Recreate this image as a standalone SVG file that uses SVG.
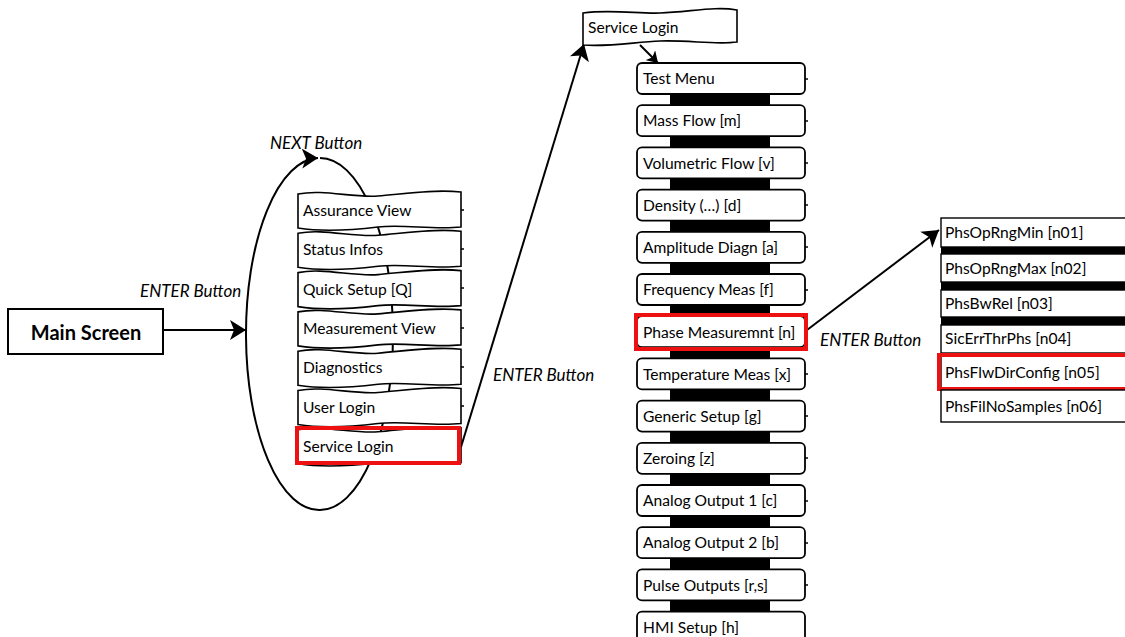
<svg xmlns="http://www.w3.org/2000/svg" width="1125" height="637" viewBox="0 0 1125 637">
<style>
text{font-family:Lato,"Open Sans","Liberation Sans",sans-serif;fill:#000}
.t{font-size:15.6px}
.lbl{font-size:17px;font-style:italic}
.wave{fill:#fff;stroke:#000;stroke-width:1.6}
.rb{fill:#fff;stroke:#000;stroke-width:1.8}
.sb{fill:#fff;stroke:#000;stroke-width:1.4}
.bar{fill:#000}
.hl{fill:none;stroke:#ee1111;stroke-width:4}
.con{fill:none;stroke:#000;stroke-width:2}
.tick{stroke:#000;stroke-width:1.5}
</style>
<defs>
<marker id="ah" markerUnits="userSpaceOnUse" markerWidth="18" markerHeight="22" refX="16" refY="10" orient="auto">
<path d="M0,0 L16,10 L0,20 L4,10 Z" fill="#000"/>
</marker>
<marker id="ahs" markerUnits="userSpaceOnUse" markerWidth="12" markerHeight="14" refX="11" refY="7" orient="auto">
<path d="M0,0 L11,7 L0,14 L3,7 Z" fill="#000"/>
</marker>
<path id="wv" d="M0,2 C25,-3 55,6 80,4 C105,2 135,-3 163,0 L163,35 C135,38 105,32 80,35 C55,38 25,40 0,36 Z"/>
</defs>

<g id="connectors">
<path class="con" d="M320,158 A73,176 0 0,1 320,510 A73,176 0 0,1 318,158" stroke-width="1.8" marker-end="url(#ah)"/>
<line class="con" x1="163" y1="330" x2="246" y2="330" marker-end="url(#ah)"/>
<line class="con" x1="461" y1="447" x2="584" y2="44" marker-end="url(#ah)"/>
<line class="con" x1="640" y1="45" x2="658" y2="63" stroke-width="1.6" marker-end="url(#ahs)"/>
<line class="con" x1="807" y1="330" x2="939" y2="230" marker-end="url(#ah)"/>
</g>

<g id="labels">
<text class="lbl" x="270" y="149" font-size="16.4">NEXT Button</text>
<text class="lbl" x="140" y="297">ENTER Button</text>
<text class="lbl" x="493" y="381">ENTER Button</text>
<text class="lbl" x="820" y="346">ENTER Button</text>
</g>

<g id="main-screen">
<rect x="8" y="309" width="155" height="45" fill="#fff" stroke="#000" stroke-width="2"/>
<text x="86" y="340" font-size="20" font-weight="bold" text-anchor="middle">Main Screen</text>
</g>

<g id="menu-assurance-view"><use href="#wv" class="wave" x="298" y="192"/><line class="tick" x1="461" y1="210" x2="464" y2="210"/><text class="t" x="303" y="216">Assurance View</text></g>
<g id="menu-status-infos"><use href="#wv" class="wave" x="298" y="231.3"/><line class="tick" x1="461" y1="249" x2="464" y2="249"/><text class="t" x="303" y="255">Status Infos</text></g>
<g id="menu-quick-setup"><use href="#wv" class="wave" x="298" y="270.6"/><line class="tick" x1="461" y1="288" x2="464" y2="288"/><text class="t" x="303" y="294.5">Quick Setup [Q]</text></g>
<g id="menu-measurement-view"><use href="#wv" class="wave" x="298" y="309.9"/><line class="tick" x1="461" y1="328" x2="464" y2="328"/><text class="t" x="303" y="334">Measurement View</text></g>
<g id="menu-diagnostics"><use href="#wv" class="wave" x="298" y="349.2"/><line class="tick" x1="461" y1="367" x2="464" y2="367"/><text class="t" x="303" y="373">Diagnostics</text></g>
<g id="menu-user-login"><use href="#wv" class="wave" x="298" y="388.5"/><line class="tick" x1="461" y1="406" x2="464" y2="406"/><text class="t" x="303" y="412.5">User Login</text></g>
<g id="menu-service-login"><use href="#wv" class="wave" x="298" y="427.8"/><text class="t" x="303" y="451.5">Service Login</text><rect class="hl" x="297" y="428" width="162" height="35"/></g>

<g id="service-login-header">
<path class="wave" d="M583,13 C610,9 640,14 660,13 C690,12 715,6 737,10 L737,42 C715,45 690,40 660,41 C635,42 610,47 583,45 Z"/>
<text class="t" x="588" y="33">Service Login</text>
</g>

<g id="bars-service">
<rect class="bar" x="670" y="94" width="100" height="12"/>
<rect class="bar" x="670" y="136" width="100" height="12"/>
<rect class="bar" x="670" y="178" width="100" height="12"/>
<rect class="bar" x="670" y="220" width="100" height="12"/>
<rect class="bar" x="670" y="262" width="100" height="12"/>
<rect class="bar" x="670" y="305" width="100" height="12"/>
<rect class="bar" x="670" y="347" width="100" height="12"/>
<rect class="bar" x="670" y="389" width="100" height="12"/>
<rect class="bar" x="670" y="431" width="100" height="12"/>
<rect class="bar" x="670" y="473" width="100" height="12"/>
<rect class="bar" x="670" y="516" width="100" height="12"/>
<rect class="bar" x="670" y="558" width="100" height="12"/>
<rect class="bar" x="670" y="600" width="100" height="12"/>
</g>

<g id="svc-test-menu"><rect class="rb" x="637" y="63" width="168" height="31" rx="5"/><line class="tick" x1="805" y1="79" x2="808" y2="79"/><text class="t" x="643" y="84">Test Menu</text></g>
<g id="svc-mass-flow"><rect class="rb" x="637" y="105.2" width="168" height="31" rx="5"/><line class="tick" x1="805" y1="121" x2="808" y2="121"/><text class="t" x="643" y="126">Mass Flow [m]</text></g>
<g id="svc-volumetric-flow"><rect class="rb" x="637" y="147.4" width="168" height="31" rx="5"/><line class="tick" x1="805" y1="163" x2="808" y2="163"/><text class="t" x="643" y="168.5">Volumetric Flow [v]</text></g>
<g id="svc-density"><rect class="rb" x="637" y="189.6" width="168" height="31" rx="5"/><line class="tick" x1="805" y1="205" x2="808" y2="205"/><text class="t" x="643" y="210.5">Density (…) [d]</text></g>
<g id="svc-amplitude"><rect class="rb" x="637" y="231.8" width="168" height="31" rx="5"/><line class="tick" x1="805" y1="247" x2="808" y2="247"/><text class="t" x="643" y="253">Amplitude Diagn [a]</text></g>
<g id="svc-frequency"><rect class="rb" x="637" y="274" width="168" height="31" rx="5"/><line class="tick" x1="805" y1="290" x2="808" y2="290"/><text class="t" x="643" y="295">Frequency Meas [f]</text></g>
<g id="svc-phase"><rect class="rb" x="637" y="316.2" width="168" height="31" rx="5"/><text class="t" x="643" y="337.5">Phase Measuremnt [n]</text><rect class="hl" x="636" y="315" width="170" height="34"/></g>
<g id="svc-temperature"><rect class="rb" x="637" y="358.4" width="168" height="31" rx="5"/><line class="tick" x1="805" y1="374" x2="808" y2="374"/><text class="t" x="643" y="379.5">Temperature Meas [x]</text></g>
<g id="svc-generic"><rect class="rb" x="637" y="400.6" width="168" height="31" rx="5"/><line class="tick" x1="805" y1="416" x2="808" y2="416"/><text class="t" x="643" y="421.5">Generic Setup [g]</text></g>
<g id="svc-zeroing"><rect class="rb" x="637" y="442.8" width="168" height="31" rx="5"/><line class="tick" x1="805" y1="458" x2="808" y2="458"/><text class="t" x="643" y="464">Zeroing [z]</text></g>
<g id="svc-analog1"><rect class="rb" x="637" y="485" width="168" height="31" rx="5"/><line class="tick" x1="805" y1="501" x2="808" y2="501"/><text class="t" x="643" y="506">Analog Output 1 [c]</text></g>
<g id="svc-analog2"><rect class="rb" x="637" y="527.2" width="168" height="31" rx="5"/><line class="tick" x1="805" y1="543" x2="808" y2="543"/><text class="t" x="643" y="548">Analog Output 2 [b]</text></g>
<g id="svc-pulse"><rect class="rb" x="637" y="569.4" width="168" height="31" rx="5"/><line class="tick" x1="805" y1="585" x2="808" y2="585"/><text class="t" x="643" y="590.5">Pulse Outputs [r,s]</text></g>
<g id="svc-hmi"><rect class="rb" x="637" y="611.6" width="168" height="31" rx="5"/><text class="t" x="643" y="632.5">HMI Setup [h]</text></g>

<g id="bars-phase">
<rect class="bar" x="941" y="247" width="190" height="7"/>
<rect class="bar" x="941" y="282" width="190" height="8"/>
<rect class="bar" x="941" y="317" width="190" height="8"/>
</g>
<g id="ph-n01"><rect class="sb" x="941" y="218" width="190" height="29"/><text class="t" x="945" y="238" font-size="16">PhsOpRngMin [n01]</text></g>
<g id="ph-n02"><rect class="sb" x="941" y="254" width="190" height="28"/><text class="t" x="945" y="273.5" font-size="16">PhsOpRngMax [n02]</text></g>
<g id="ph-n03"><rect class="sb" x="941" y="290" width="190" height="27"/><text class="t" x="945" y="309" font-size="16">PhsBwRel [n03]</text></g>
<g id="ph-n04"><rect class="sb" x="941" y="325" width="190" height="28"/><text class="t" x="945" y="344" font-size="16">SicErrThrPhs [n04]</text></g>
<g id="ph-n05"><rect class="sb" x="941" y="355" width="190" height="34"/><text class="t" x="945" y="377.5" font-size="16">PhsFlwDirConfig [n05]</text><rect class="hl" x="939" y="355" width="190" height="34"/></g>
<g id="ph-n06"><rect class="sb" x="941" y="390" width="190" height="32"/><text class="t" x="945" y="411.5" font-size="16">PhsFilNoSamples [n06]</text></g>
</svg>
